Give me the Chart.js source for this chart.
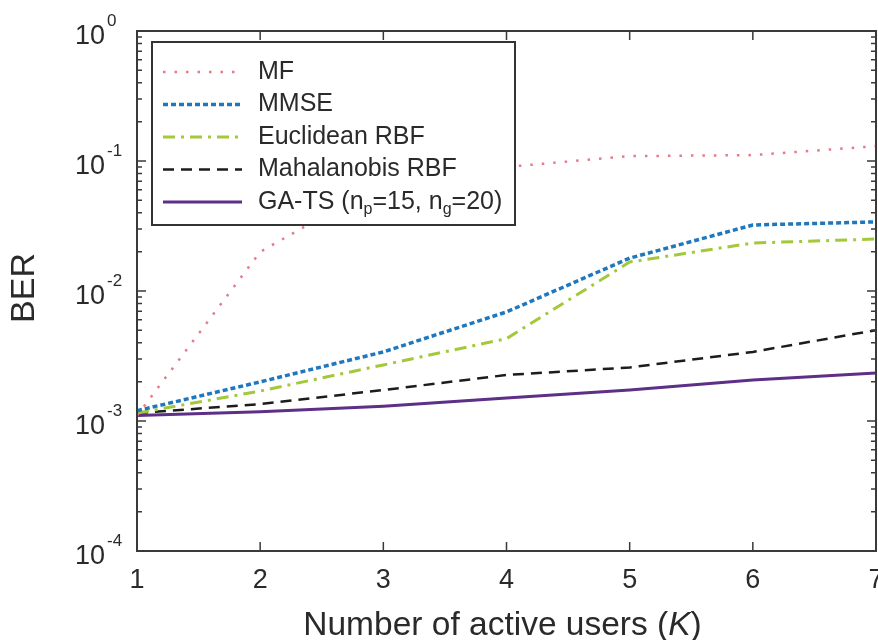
<!DOCTYPE html>
<html>
<head>
<meta charset="utf-8">
<script src="https://cdn.jsdelivr.net/npm/chart.js@4.4.1/dist/chart.umd.min.js"></script>
<style>
  html, body { margin: 0; padding: 0; background: #fff; }
  #wrap { width: 878px; height: 640px; position: relative; }
</style>
</head>
<body>
<div id="wrap"><canvas id="ber"></canvas></div>
<script>
// BER against number of active users K
const users    = [1, 2, 3, 4, 5, 6, 7];
const berMF    = [1.1e-3, 0.020, 0.069, 0.090, 0.109, 0.111, 0.130];
const berMMSE  = [1.2e-3, 2.0e-3, 3.4e-3, 6.9e-3, 0.0179, 0.0322, 0.0340];
const berEucl  = [1.15e-3, 1.7e-3, 2.7e-3, 4.3e-3, 0.0167, 0.0234, 0.0251];
const berMahal = [1.15e-3, 1.35e-3, 1.73e-3, 2.26e-3, 2.58e-3, 3.4e-3, 5.0e-3];
const berGATS  = [1.1e-3, 1.18e-3, 1.3e-3, 1.5e-3, 1.73e-3, 2.07e-3, 2.34e-3];

const xTicks   = [1, 2, 3, 4, 5, 6, 7];
const yDecades = [0, -1, -2, -3, -4];

const FONT = '"Liberation Sans", Arial, Helvetica, sans-serif';
const INK  = '#2a2a2a';

const pts = ys => users.map((k, i) => ({ x: k, y: ys[i] }));

const series = [
  { label: 'MF',                     data: berMF,    color: '#e57a8c', width: 2.5, dash: [2.5, 9] },
  { label: 'MMSE',                   data: berMMSE,  color: '#1f78bd', width: 3.5, dash: [5, 3] },
  { label: 'Euclidean RBF',          data: berEucl,  color: '#a3c93a', width: 3,   dash: [12, 6, 3, 6] },
  { label: 'Mahalanobis RBF',        data: berMahal, color: '#1c1c1c', width: 2.5, dash: [11, 7] },
  { label: 'GA-TS (n_p=15, n_g=20)', data: berGATS,  color: '#5e2f86', width: 3,   dash: [] },
];

// text with single-char subscripts written as _x
function drawRich(ctx, text, x, y, size) {
  let cx = x;
  for (const p of text.split(/(_\w)/)) {
    if (!p) continue;
    if (p[0] === '_') {
      ctx.font = Math.round(size * 0.65) + 'px ' + FONT;
      ctx.fillText(p.slice(1), cx, y + size * 0.3);
      cx += ctx.measureText(p.slice(1)).width;
    } else {
      ctx.font = size + 'px ' + FONT;
      ctx.fillText(p, cx, y);
      cx += ctx.measureText(p).width;
    }
  }
}

const decorations = {
  id: 'decorations',
  afterDatasetsDraw(chart) {
    const { ctx, chartArea: { left, right, top, bottom }, scales: { x, y } } = chart;
    ctx.save();

    // legend box inside the plot
    const lx = left + 15, ly = top + 11, lw = 363, lh = 183;
    ctx.fillStyle = '#fff';
    ctx.fillRect(lx, ly, lw, lh);
    ctx.strokeStyle = '#333';
    ctx.lineWidth = 2;
    ctx.strokeRect(lx, ly, lw, lh);
    chart.data.datasets.forEach((ds, i) => {
      const ry = ly + 30 + i * 32.5;
      ctx.beginPath();
      ctx.strokeStyle = ds.borderColor;
      ctx.lineWidth = ds.borderWidth;
      ctx.setLineDash(ds.borderDash || []);
      ctx.moveTo(lx + 11, ry);
      ctx.lineTo(lx + 90, ry);
      ctx.stroke();
      ctx.setLineDash([]);
      ctx.fillStyle = INK;
      ctx.textAlign = 'left';
      ctx.textBaseline = 'middle';
      drawRich(ctx, ds.label, lx + 106, ry, 25);
    });

    // axes box
    ctx.strokeStyle = '#3a3a3a';
    ctx.lineWidth = 2;
    ctx.strokeRect(left, top, right - left, bottom - top);

    // inward tick marks
    ctx.lineWidth = 1.5;
    ctx.beginPath();
    for (const v of xTicks) {
      const px = x.getPixelForValue(v);
      ctx.moveTo(px, bottom); ctx.lineTo(px, bottom - 9);
      ctx.moveTo(px, top);    ctx.lineTo(px, top + 9);
    }
    for (const e of yDecades) {
      for (let m = 1; m <= 9; m++) {
        const v = m * Math.pow(10, e);
        if (v > 1) break;
        const py = y.getPixelForValue(v);
        const len = m === 1 ? 9 : 5;
        ctx.moveTo(left, py);  ctx.lineTo(left + len, py);
        ctx.moveTo(right, py); ctx.lineTo(right - len, py);
      }
    }
    ctx.stroke();

    // x tick labels
    ctx.fillStyle = INK;
    ctx.font = '27px ' + FONT;
    ctx.textAlign = 'center';
    ctx.textBaseline = 'middle';
    for (const v of xTicks) ctx.fillText(String(v), x.getPixelForValue(v), bottom + 30);

    // y tick labels 10^e
    for (const e of yDecades) {
      const py = y.getPixelForValue(Math.pow(10, e));
      ctx.font = '27px ' + FONT;
      ctx.textAlign = 'right';
      ctx.textBaseline = 'middle';
      ctx.fillText('10', left - 32, py + 6);
      ctx.font = '17px ' + FONT;
      ctx.textAlign = 'left';
      ctx.fillText(String(e), left - 30, py - 10);
    }

    // y title
    ctx.save();
    ctx.translate(25, (top + bottom) / 2 - 3);
    ctx.rotate(-Math.PI / 2);
    ctx.font = '34px ' + FONT;
    ctx.textAlign = 'center';
    ctx.textBaseline = 'middle';
    ctx.fillText('BER', 0, 0);
    ctx.restore();

    // x title with italic K
    const parts = [['Number of active users (', ''], ['K', 'italic '], [')', '']];
    let total = 0;
    for (const [t, st] of parts) { ctx.font = st + '33.5px ' + FONT; total += ctx.measureText(t).width; }
    let cx = (left + right) / 2 - 4 - total / 2;
    ctx.textAlign = 'left';
    ctx.textBaseline = 'alphabetic';
    for (const [t, st] of parts) {
      ctx.font = st + '33.5px ' + FONT;
      ctx.fillText(t, cx, 635);
      cx += ctx.measureText(t).width;
    }
    ctx.restore();
  }
};

new Chart(document.getElementById('ber'), {
  type: 'line',
  data: {
    datasets: series.map(s => ({
      label: s.label,
      data: pts(s.data),
      borderColor: s.color,
      borderWidth: s.width,
      borderDash: s.dash,
      pointRadius: 0,
      tension: 0,
      fill: false,
    })),
  },
  options: {
    responsive: true,
    maintainAspectRatio: false,
    animation: false,
    layout: { autoPadding: false, padding: { left: 137, right: 2, top: 31, bottom: 89 } },
    scales: {
      x: {
        type: 'linear', min: 1, max: 7,
        border: { display: false },
        grid: { display: false, drawTicks: false },
        ticks: { display: false, stepSize: 1 },
      },
      y: {
        type: 'logarithmic', min: 1e-4, max: 1,
        border: { display: false },
        grid: { display: false, drawTicks: false },
        ticks: { display: false },
      },
    },
    plugins: { legend: { display: false }, tooltip: { enabled: false } },
  },
  plugins: [decorations],
});
</script>
</body>
</html>
